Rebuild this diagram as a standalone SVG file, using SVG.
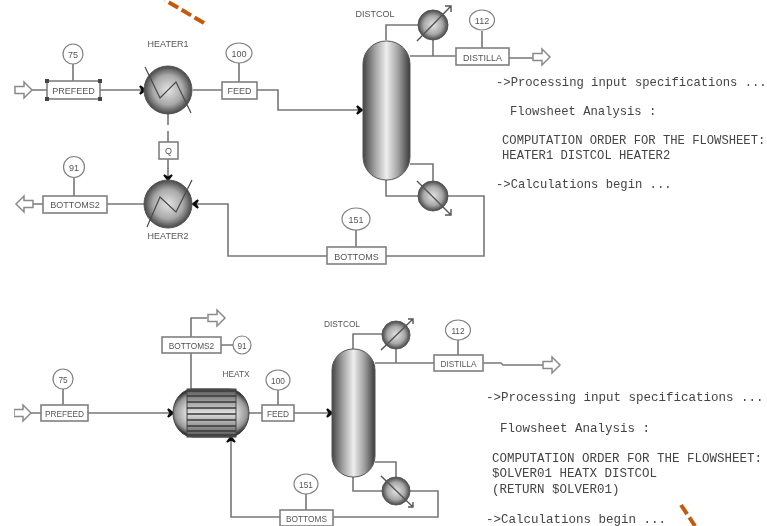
<svg xmlns="http://www.w3.org/2000/svg" width="767" height="526" viewBox="0 0 767 526">
<style>
.c{fill:none;stroke:#777;stroke-width:1.6}
.b{fill:#fff;stroke:#808080;stroke-width:1.6}
.o{fill:#fff;stroke:#808080;stroke-width:1.2}
.h{fill:#fff;stroke:#8a8a8a;stroke-width:1.5}
.s{fill:url(#sp);stroke:#555;stroke-width:1}
.col{fill:url(#cg);stroke:#555;stroke-width:1}
.d{fill:none;stroke:#4a4a4a;stroke-width:1.2}
.t{font-family:"Liberation Sans",Arial,sans-serif;font-size:9px;fill:#555;text-anchor:middle}
.u{font-size:8.300px}
.m{font-family:"Liberation Mono","Courier New",monospace;font-size:12.200px;fill:#444}
.m2{font-size:12.500px}
.n{stroke:#111;stroke-width:2;fill:#111}
.g{stroke:#555;stroke-width:1.4;fill:none}
</style>
<defs>
<radialGradient id="sp" cx="0.5" cy="0.5" r="0.52"><stop offset="0" stop-color="#e4e4e4"/><stop offset="0.6" stop-color="#a8a8a8"/><stop offset="1" stop-color="#3c3c3c"/></radialGradient>
<radialGradient id="cap" cx="0.5" cy="0.5" r="0.55"><stop offset="0.55" stop-color="#e8e8e8"/><stop offset="0.85" stop-color="#999"/><stop offset="1" stop-color="#333"/></radialGradient>
<linearGradient id="cg" x1="0" x2="1" y1="0" y2="0"><stop offset="0" stop-color="#454545"/><stop offset="0.25" stop-color="#a0a0a0"/><stop offset="0.5" stop-color="#eeeeee"/><stop offset="0.75" stop-color="#a0a0a0"/><stop offset="1" stop-color="#3c3c3c"/></linearGradient>
<linearGradient id="tube" x1="0" x2="0" y1="0" y2="1"><stop offset="0" stop-color="#555"/><stop offset="0.5" stop-color="#e0e0e0"/><stop offset="1" stop-color="#555"/></linearGradient>
<path id="ar" d="M0,-3.500H9V-8L17,0L9,8V3.500H0Z"/>
<path id="ah" d="M-5,-4L-2.500,0L-5,4L0,0Z"/>
<filter id="bl" x="0" y="0" width="1" height="1"><feGaussianBlur stdDeviation="0.65"/></filter>
</defs>
<rect width="767" height="526" fill="#fff"/>
<g filter="url(#bl)">
<g id="connectors">
<path class="c" d="M32,90H47M100,90H144M193,90H222M257,90H278V110H362M73,64V81M239,63V82M168,114V125M168,131V142M168,159V180M33,204H43M107,204H145M74,178V196M193,204H228V256H327M386,256H484V196H448M356,230V247M386,40V25H418M410,56H456M433,56V40M482,31V48M509,58H533M386,180V196H418M410,164H433V181"/>
<path class="c" d="M30,413H41M88,413H172M63,389V405M191,389V318H207M221,345H233M249,413H262M278,390V405M294,413H331M353,349V334H382M375,363H434M396,363V349M458,340V355M483,363H501L503,365H543M375,462H396V477M353,477V491H382M410,491H438V517H333M306,494V510M280,517H231V438"/>
<use href="#ah" class="n" transform="translate(145,90)"/>
<use href="#ah" class="n" transform="translate(362,110)"/>
<use href="#ah" class="n" transform="translate(168,180) rotate(90)"/>
<use href="#ah" class="n" transform="translate(193,204) rotate(180)"/>
<use href="#ah" class="n" transform="translate(173,413)"/>
<use href="#ah" class="n" transform="translate(332,413)"/>
<use href="#ah" class="n" transform="translate(231,437) rotate(-90)"/>
</g>
<g id="arrows">
<use href="#ar" class="h" transform="translate(15,90)"/>
<use href="#ar" class="h" transform="translate(33,204) rotate(180)"/>
<use href="#ar" class="h" transform="translate(533,57)"/>
<use href="#ar" class="h" transform="translate(14,413)"/>
<use href="#ar" class="h" transform="translate(208,318)"/>
<use href="#ar" class="h" transform="translate(543,365)"/>
</g>
<g id="prefeed1"><rect class="b" x="47" y="81" width="53" height="18"/><path d="M45,79h4v4h-4zM98,79h4v4h-4zM45,97h4v4h-4zM98,97h4v4h-4z" fill="#444"/><text class="t" x="73.500" y="93.500">PREFEED</text><ellipse class="o" cx="73" cy="54" rx="10" ry="10"/><text class="t" x="73" y="57.500">75</text></g>
<g id="heater1"><circle class="s" cx="168" cy="90" r="24"/><path class="d" d="M145,67L160,98L176,82L191,113"/><text class="t" x="168" y="47">HEATER1</text></g>
<g id="feed1"><rect class="b" x="222" y="82" width="35" height="17"/><text class="t" x="239.500" y="94">FEED</text><ellipse class="o" cx="239" cy="53" rx="13" ry="10"/><text class="t" x="239" y="56.500">100</text></g>
<g id="q"><rect class="b" x="159" y="142" width="19" height="17"/><text class="t" x="168.500" y="154">Q</text></g>
<g id="heater2"><circle class="s" cx="168" cy="204" r="24"/><path class="d" d="M147,227L160,197L176,212L192,180"/><text class="t" x="168" y="239">HEATER2</text></g>
<g id="bottoms2a"><rect class="b" x="43" y="196" width="64" height="17"/><text class="t" x="75" y="208">BOTTOMS2</text><ellipse class="o" cx="74" cy="167" rx="10.500" ry="10.500"/><text class="t" x="74" y="170.500">91</text></g>
<g id="distcol1"><rect class="col" x="363" y="41" width="47" height="139" rx="23" ry="23"/><text class="t" x="375" y="17">DISTCOL</text></g>
<g id="condenser1"><circle class="s" cx="433" cy="25" r="15"/><path class="g" d="M417,41L451,6M445,6H451V12"/></g>
<g id="reboiler1"><circle class="s" cx="433" cy="196" r="15"/><path class="g" d="M417,181L451,215M445,215H451V209"/></g>
<g id="distilla1"><rect class="b" x="456" y="48" width="53" height="17"/><text class="t" x="482.500" y="60.500">DISTILLA</text><ellipse class="o" cx="482" cy="20" rx="12.500" ry="10"/><text class="t" x="482" y="23.500">112</text></g>
<g id="bottoms1"><rect class="b" x="327" y="247" width="59" height="17"/><text class="t" x="356.500" y="259.500">BOTTOMS</text><ellipse class="o" cx="356" cy="219" rx="14" ry="11"/><text class="t" x="356" y="222.500">151</text></g>
<g id="prefeed2"><rect class="b" x="41" y="405" width="47" height="16"/><text class="t u" x="64.500" y="416.500">PREFEED</text><ellipse class="o" cx="63" cy="379" rx="10" ry="10"/><text class="t u" x="63" y="382.500">75</text></g>
<g id="heatx"><rect x="173" y="389" width="76" height="48" rx="20" ry="24" fill="url(#cap)" stroke="#444"/><rect x="187" y="389" width="49" height="48" fill="url(#tube)" stroke="#444"/><path d="M187,391H236M187,396H236M187,402H236M187,408H236M187,414H236M187,420H236M187,426H236M187,431H236M187,435H236" stroke="#3a3a3a" stroke-width="1.300" fill="none"/><text class="t u" x="236" y="377">HEATX</text></g>
<g id="bottoms2b"><rect class="b" x="162" y="337" width="59" height="16"/><text class="t u" x="191.500" y="348.500">BOTTOMS2</text><ellipse class="o" cx="242" cy="345" rx="9" ry="9"/><text class="t u" x="242" y="348.500">91</text></g>
<g id="feed2"><rect class="b" x="262" y="405" width="32" height="16"/><text class="t u" x="278" y="416.500">FEED</text><ellipse class="o" cx="278" cy="380" rx="12" ry="10"/><text class="t u" x="278" y="383.500">100</text></g>
<g id="distcol2"><rect class="col" x="332" y="349" width="43" height="128" rx="21" ry="21"/><text class="t u" x="342" y="327">DISTCOL</text></g>
<g id="condenser2"><circle class="s" cx="396" cy="335" r="14"/><path class="g" d="M381,350L413,319M408,319H413V324"/></g>
<g id="reboiler2"><circle class="s" cx="396" cy="491" r="14"/><path class="g" d="M381,476L413,507M408,507H413V502"/></g>
<g id="distilla2"><rect class="b" x="434" y="355" width="49" height="16"/><text class="t u" x="458.500" y="366.500">DISTILLA</text><ellipse class="o" cx="458" cy="330" rx="12.500" ry="10"/><text class="t u" x="458" y="333.500">112</text></g>
<g id="bottoms2"><rect class="b" x="280" y="510" width="53" height="16"/><text class="t u" x="306.500" y="521.500">BOTTOMS</text><ellipse class="o" cx="306" cy="484" rx="12" ry="10"/><text class="t u" x="306" y="487.500">151</text></g>
<g id="log1">
<text class="m" x="496" y="86">-&gt;Processing input specifications ...</text>
<text class="m" x="510" y="115">Flowsheet Analysis :</text>
<text class="m" x="502" y="144">COMPUTATION ORDER FOR THE FLOWSHEET:</text>
<text class="m" x="502" y="159">HEATER1 DISTCOL HEATER2</text>
<text class="m" x="496" y="188">-&gt;Calculations begin ...</text>
</g>
<g id="log2">
<text class="m m2" x="486" y="401">-&gt;Processing input specifications ...</text>
<text class="m m2" x="500" y="432">Flowsheet Analysis :</text>
<text class="m m2" x="492" y="462">COMPUTATION ORDER FOR THE FLOWSHEET:</text>
<text class="m m2" x="492" y="477">$OLVER01 HEATX DISTCOL</text>
<text class="m m2" x="492" y="493">(RETURN $OLVER01)</text>
<text class="m m2" x="486" y="523">-&gt;Calculations begin ...</text>
</g>
<g id="dashes" fill="none" stroke="#c55a11" stroke-width="4" stroke-dasharray="11 4">
<path d="M204,23L165,0"/><path d="M681,505L695,526"/>
</g>
</g>
</svg>
